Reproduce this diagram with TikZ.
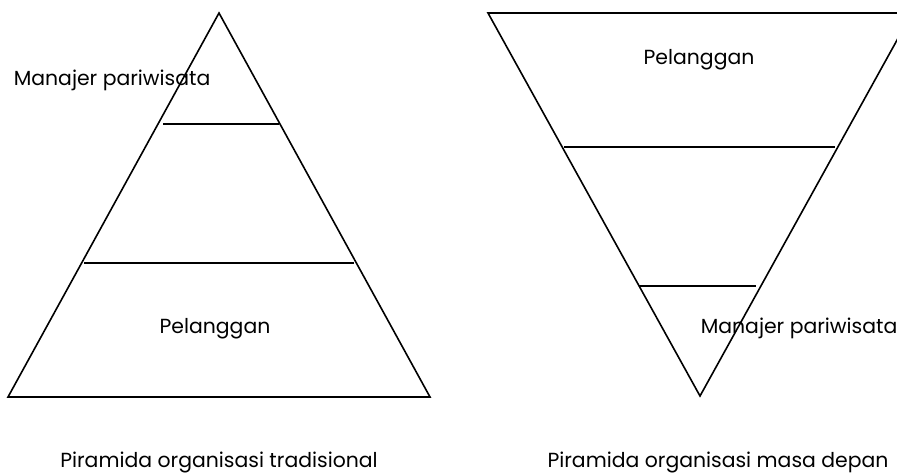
\documentclass[tikz,border=0pt]{standalone}
\usepackage{fontspec}
\setmainfont{Poppins}
\usetikzlibrary{positioning}
\tikzset{label text/.style={inner sep=0pt,font=\fontsize{10.2}{12}\selectfont}}
\begin{document}
\begin{tikzpicture}[x=0.5pt,y=-0.5pt,line width=0.8pt]
	%% some definitions
	\def\W{897} % picture width
	\def\H{472} % picture height

	\useasboundingbox (0,0) rectangle (\W,\H);
	\clip (0,0) rectangle (\W,\H);

	% traditional pyramid
	\draw (219,13) -- (8,397) -- (430,397) -- cycle;
	\draw (163,124) -- (279,124);
	\draw (84,263) -- (354,263);

	% future pyramid (turned upside down)
	\draw (488,13) -- (700,396) -- (912,13) -- cycle;
	\draw (564,147) -- (835,147);
	\draw (639,286) -- (756,286);

	\node[label text,anchor=base west] (mgrL) at (13,85) {Manajer pariwisata};
	\node[label text,anchor=base] (custL) at (215,333) {Pelanggan};
	\node[label text,anchor=base] (custR) at (699,64) {Pelanggan};
	\node[label text,anchor=base west] (mgrR) at (700,333) {Manajer pariwisata};

	\node[label text,anchor=base] (capL) at (219,467) {Piramida organisasi tradisional};
	\node[label text,anchor=base] (capR) at (718,467) {Piramida organisasi masa depan};
\end{tikzpicture}
\end{document}
